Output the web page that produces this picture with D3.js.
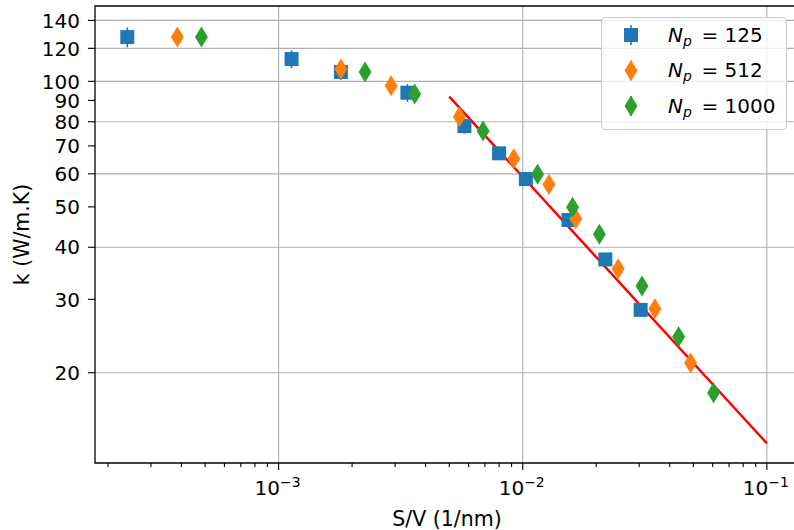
<!DOCTYPE html>
<html><head><meta charset="utf-8">
<script src="https://cdn.jsdelivr.net/npm/d3@7/dist/d3.min.js"></script>
<style>body{margin:0;background:#fff}svg{display:block;font-family:"DejaVu Sans",sans-serif}</style>
</head><body><svg id="c" width="794" height="530"></svg>
<script>
// ---- data ----
const seriesNames = ["125", "512", "1000"];
const blueX = [2.4e-4, 1.13e-3, 1.80e-3, 3.37e-3, 5.77e-3, 8.0e-3, 1.03e-2, 1.54e-2, 2.18e-2, 3.04e-2];
const blueK = [127.7, 113.1, 105.3, 93.9, 78.1, 67.2, 58.3, 46.5, 37.4, 28.3];
const blueErr = [7, 5.6, 4.6, 4.6, 3.2, 1.5, 1.2, 1.0, 0.8, 0.6];
const orangeX = [3.85e-4, 1.80e-3, 2.89e-3, 5.5e-3, 9.19e-3, 1.28e-2, 1.65e-2, 2.46e-2, 3.48e-2, 4.87e-2];
const orangeK = [127.7, 107.0, 97.6, 82.2, 65.2, 56.6, 46.8, 35.5, 28.5, 21.1];
const orangeErr = [3, 2.5, 2, 2, 1.5, 1.2, 1, 0.8, 0.6, 0.5];
const greenX = [4.83e-4, 2.26e-3, 3.61e-3, 6.88e-3, 1.15e-2, 1.60e-2, 2.06e-2, 3.08e-2, 4.35e-2, 6.05e-2];
const greenK = [127.7, 105.3, 93.2, 76.0, 59.9, 49.9, 43.0, 32.3, 24.4, 17.9];
const greenErr = [3, 2.5, 2, 2, 1.5, 1.2, 1, 0.8, 0.6, 0.5];
const fitX = [0.005, 0.1];
const fitK = [91.9, 13.54];
const xMajorTicks = [1e-3, 1e-2, 1e-1];
const xMajorExp = ["−3", "−2", "−1"];
const yTickLabels = [20, 30, 40, 50, 60, 70, 80, 90, 100, 120, 140];
const yGridTicks = [20, 40, 60, 80, 100, 120, 140];

// ---- layout ----
const L = 95, R = 798.7, T = 6, B = 463;
const colors = ["#1f77b4", "#ff7f0e", "#2ca02c"];
const svg = d3.select("#c");
const x = d3.scaleLog().domain([1.77e-4, 0.135]).range([L, R]);
const y = d3.scaleLog().domain([12.15, 151.6]).range([B, T]);
const FS = 20, LFS = 20.5;

// grid
const g = svg.append("g");
g.selectAll(".gx").data(xMajorTicks).join("line")
  .attr("x1", d => x(d)).attr("x2", d => x(d)).attr("y1", T).attr("y2", B)
  .attr("stroke", "#b0b0b0").attr("stroke-width", 1.1);
g.selectAll(".gy").data(yGridTicks).join("line")
  .attr("x1", L).attr("x2", R).attr("y1", d => y(d)).attr("y2", d => y(d))
  .attr("stroke", "#b0b0b0").attr("stroke-width", 1.1);

// fit line
svg.append("path")
  .attr("d", d3.line().x(d => x(d[0])).y(d => y(d[1]))(fitX.map((v, i) => [v, fitK[i]])))
  .attr("stroke", "#ff0000").attr("stroke-width", 2.5).attr("fill", "none");

// markers
const sq = d3.symbol().type(d3.symbolSquare).size(14 * 14)();
function diamondPath(w, h) { return `M0,${-h/2}L${w/2},0L0,${h/2}L${-w/2},0Z`; }
const dm = diamondPath(13, 21);
const series = [
  {xs: blueX, ks: blueK, es: blueErr, shape: sq},
  {xs: orangeX, ks: orangeK, es: orangeErr, shape: dm},
  {xs: greenX, ks: greenK, es: greenErr, shape: dm}
];
series.forEach((s, si) => {
  const pts = s.xs.map((v, i) => ({x: v, k: s.ks[i], e: s.es[i]}));
  const gs = svg.append("g");
  gs.selectAll("line").data(pts).join("line")
    .attr("x1", d => x(d.x)).attr("x2", d => x(d.x))
    .attr("y1", d => y(d.k + d.e)).attr("y2", d => y(d.k - d.e))
    .attr("stroke", colors[si]).attr("stroke-width", 1.6);
  gs.selectAll("path").data(pts).join("path")
    .attr("d", s.shape)
    .attr("transform", d => `translate(${x(d.x)},${y(d.k)})`)
    .attr("fill", colors[si]);
});

// axes
const ax = svg.append("g");
ax.selectAll(".xt").data(x.ticks()).join("line")
  .attr("x1", d => x(d)).attr("x2", d => x(d)).attr("y1", B)
  .attr("y2", d => xMajorTicks.some(m => Math.abs(m - d) / m < 1e-6) ? B + 7 : B + 4)
  .attr("stroke", "#000").attr("stroke-width", 1.1);
xMajorTicks.forEach((t, i) => {
  const tx = ax.append("text").attr("x", x(t) - 1).attr("y", 495)
    .attr("text-anchor", "middle").attr("font-size", FS).attr("fill", "#000");
  tx.append("tspan").text("10");
  tx.append("tspan").attr("dy", -8.5).attr("font-size", 14).text(xMajorExp[i]);
});
ax.selectAll(".yt").data(yTickLabels).join("line")
  .attr("x1", L - 7).attr("x2", L).attr("y1", d => y(d)).attr("y2", d => y(d))
  .attr("stroke", "#000").attr("stroke-width", 1.1);
ax.selectAll(".yl").data(yTickLabels).join("text")
  .attr("x", 80).attr("y", d => y(d)).attr("dy", "0.36em")
  .attr("text-anchor", "end").attr("font-size", FS).attr("fill", "#000")
  .text(d => d);
// spines
ax.append("path").attr("d", `M${R},${T}H${L}V${B}H${R}`)
  .attr("stroke", "#000").attr("stroke-width", 1.3).attr("fill", "none");

// axis labels
svg.append("text").attr("x", 447).attr("y", 526)
  .attr("text-anchor", "middle").attr("font-size", LFS).text("S/V (1/nm)");
svg.append("text").attr("transform", `translate(29,${(T + B) / 2}) rotate(-90)`)
  .attr("text-anchor", "middle").attr("font-size", LFS).text("k (W/m.K)");

// legend
const lg = svg.append("g");
lg.append("rect").attr("x", 601.5).attr("y", 17.5).attr("width", 185).attr("height", 112)
  .attr("rx", 4).attr("fill", "#fff").attr("fill-opacity", 0.8)
  .attr("stroke", "#cccccc").attr("stroke-width", 1.1);
const rowY = [35, 70.5, 106];
series.forEach((s, si) => {
  const cy = rowY[si];
  lg.append("line").attr("x1", 631).attr("x2", 631).attr("y1", cy - 10).attr("y2", cy + 10)
    .attr("stroke", colors[si]).attr("stroke-width", 1.6);
  lg.append("path").attr("d", s.shape).attr("transform", `translate(631,${cy})`).attr("fill", colors[si]);
  const t = lg.append("text").attr("x", 668).attr("y", cy + 6.5).attr("font-size", FS);
  t.append("tspan").attr("font-style", "italic").text("N");
  t.append("tspan").attr("font-style", "italic").attr("font-size", 14).attr("dy", 4).text("p");
  t.append("tspan").attr("x", 701.5).attr("dy", -4).text("= " + seriesNames[si]);
});
</script></body></html>
